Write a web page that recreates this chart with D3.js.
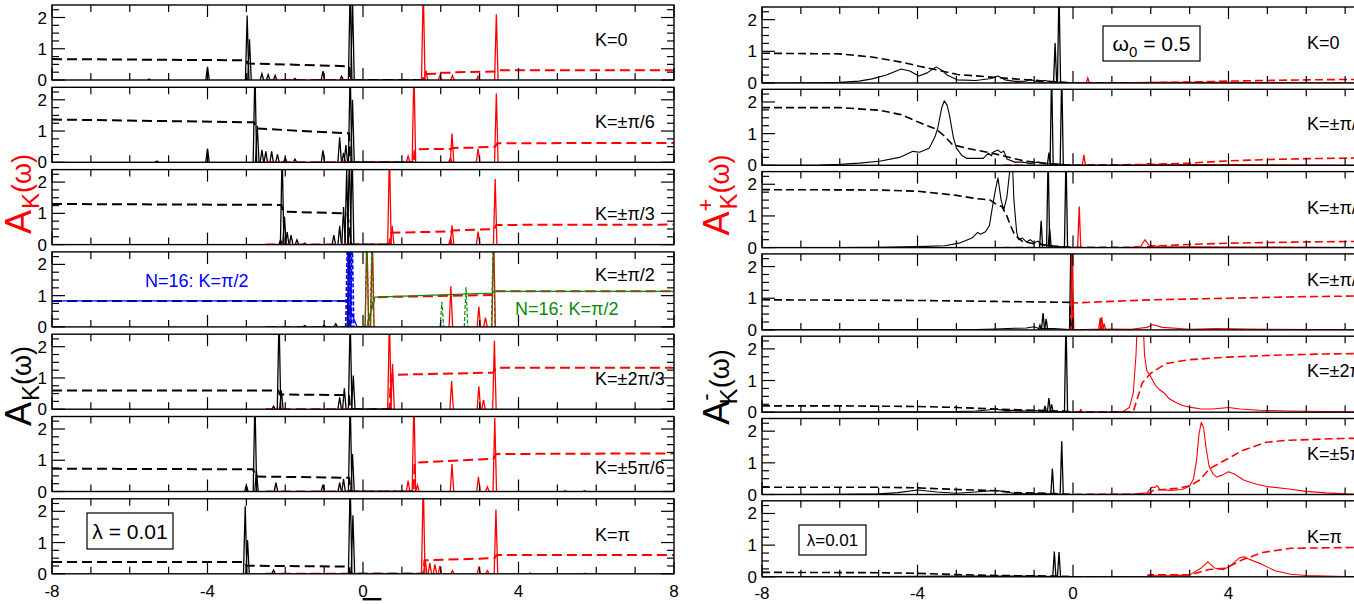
<!DOCTYPE html>
<html>
<head>
<meta charset="utf-8">
<script src="https://cdn.jsdelivr.net/npm/d3@7"></script>
<style>
body { margin: 0; background: #fff; }
text { font-family: "Liberation Sans", Arial, sans-serif; }
</style>
</head>
<body>
<svg id="chart" width="1354" height="604"></svg>
<script>
// ---- data ----
const kLabels = ["K=0", "K=±π/6", "K=±π/3", "K=±π/2", "K=±2π/3", "K=±5π/6", "K=π"];
const omegaTicks = [-8, -4, 0, 4, 8];
const weightTicks = [0, 1, 2];

// left figure (lambda = 0.01): sharp peaks as [omega, height]
const leftHolePeaks = [
  [[-5.5,0.03],[-4.0,0.42],[-2.98,2.06],[-2.92,1.3],[-2.6,0.2],[-2.44,0.17],[-2.26,0.15],[-1.75,0.05],[-1.03,0.28],[-0.55,0.12],[-0.33,3.0],[-0.27,2.6]],
  [[-5.3,0.04],[-4.0,0.44],[-2.78,3.0],[-2.72,1.17],[-2.6,0.4],[-2.5,0.35],[-2.35,0.35],[-2.2,0.25],[-2.0,0.15],[-1.75,0.1],[-1.03,0.38],[-0.6,0.8],[-0.5,0.3],[-0.44,0.55],[-0.33,3.0],[-0.27,2.0]],
  [[-2.12,0.15],[-2.08,3.0],[-2.02,0.9],[-1.95,0.4],[-1.85,0.3],[-1.7,0.15],[-1.5,0.05],[-0.75,0.3],[-0.6,0.6],[-0.5,1.2],[-0.42,2.4],[-0.35,3.0],[-0.28,3.0]],
  [[-1.5,0.04],[-1.0,0.05],[-0.7,0.1],[-0.36,3.0]],
  [[-2.3,0.1],[-2.16,3.0],[-2.1,0.6],[-0.6,0.38],[-0.48,0.67],[-0.33,3.0],[-0.25,1.08]],
  [[-3.0,0.2],[-2.78,3.0],[-2.74,0.67],[-2.24,0.28],[-1.03,0.22],[-0.6,0.28],[-0.5,0.4],[-0.33,3.0],[-0.27,1.2]],
  [[-3.03,2.16],[-2.97,1.08],[-2.3,0.12],[-0.33,3.0],[-0.26,1.87]]
];
const leftHoleWeight = [
  [[-8,0.67],[-3.0,0.63],[-2.97,0.53],[-0.36,0.44],[-0.33,0],[1.5,0]],
  [[-8,1.37],[-2.8,1.28],[-2.76,1.08],[-0.36,0.93],[-0.33,0],[1.3,0]],
  [[-8,1.3],[-2.1,1.27],[-2.05,1.05],[-0.4,1.0],[-0.3,0],[0.7,0]],
  [[-8,0.83],[-0.38,0.83],[-0.35,0],[0.2,0]],
  [[-8,0.6],[-2.18,0.6],[-2.14,0.47],[-0.36,0.45],[-0.33,0],[0.7,0]],
  [[-8,0.73],[-2.82,0.71],[-2.78,0.48],[-0.36,0.44],[-0.33,0],[1.3,0]],
  [[-8,0.38],[-3.05,0.38],[-3.0,0.26],[-0.36,0.23],[-0.33,0],[1.55,0]]
];
const leftElecPeaks = [
  [[1.55,3.0],[1.62,0.3],[1.98,0.15],[2.3,0.15],[2.96,0.12],[3.43,2.1]],
  [[1.16,0.2],[1.31,3.0],[2.25,0.15],[2.29,0.92],[2.96,0.44],[3.43,2.2]],
  [[0.68,3.0],[0.75,0.6],[2.25,0.2],[2.29,0.62],[2.96,0.42],[3.4,2.1]],
  [[0.1,3.0],[0.24,3.0],[2.26,1.3],[2.98,0.64],[3.15,0.3],[3.36,3.0]],
  [[0.68,3.0],[0.76,1.45],[2.28,0.9],[2.98,0.73],[3.1,0.3],[3.38,2.19]],
  [[1.16,0.35],[1.31,3.0],[1.4,0.2],[2.29,0.88],[2.97,0.47],[3.2,0.15],[3.39,2.35],[5.2,0.03],[5.7,0.03]],
  [[1.55,3.0],[1.6,0.44],[1.72,0.34],[1.85,0.3],[1.98,0.25],[2.3,0.1],[2.98,0.2],[3.2,0.1],[3.42,2.06],[4.3,0.03],[5.7,0.02]]
];
const leftElecWeight = [
  [[-2.5,0],[1.54,0],[1.57,0.19],[1.98,0.2],[2.0,0.23],[2.3,0.23],[2.32,0.25],[3.4,0.27],[3.45,0.31],[8,0.31]],
  [[-2.5,0],[1.3,0],[1.33,0.42],[2.27,0.43],[2.3,0.46],[2.95,0.47],[2.98,0.48],[3.4,0.5],[3.45,0.61],[8,0.62]],
  [[-2.5,0],[0.68,0],[0.72,0.38],[2.27,0.42],[2.3,0.45],[3.38,0.5],[3.43,0.63],[8,0.64]],
  [[-2.5,0],[0.1,0],[0.3,0.95],[3.33,1.02],[3.38,1.14],[8,1.14]],
  [[-2.5,0],[0.68,0],[0.72,1.1],[3.35,1.17],[3.42,1.33],[8,1.33]],
  [[-2.5,0],[1.3,0],[1.33,0.92],[3.35,1.05],[3.42,1.2],[8,1.22]],
  [[-2.5,0],[1.55,0],[1.58,0.43],[3.38,0.5],[3.44,0.6],[8,0.6]]
];
// N=16 comparison, K=pi/2 panel
const n16HoleLine = [[-8,0.83],[-0.42,0.83],[-0.15,0]];
const n16HolePeaks = [[-0.4,3.0],[-0.33,3.0],[-0.28,3.0]];
const n16ElecLine = [[0.1,0],[0.3,0.95],[3.33,1.08],[3.38,1.14],[8,1.14]];
const n16ElecPeaks = [[0.1,3.0],[0.23,3.0],[2.03,0.8],[2.65,1.27],[3.35,3.0]];

// right figure (omega0 = 0.5): broad curves, a few sharp peaks, integrated weights
const rightHoleCurve = [
  [[-8,0],[-6.5,0.005],[-6,0.02],[-5.5,0.06],[-5.17,0.13],[-4.8,0.25],[-4.42,0.44],[-4.2,0.38],[-3.96,0.22],[-3.75,0.32],[-3.52,0.51],[-3.35,0.38],[-3.24,0.25],[-2.98,0.1],[-2.5,0.08],[-2.1,0.14],[-1.93,0.22],[-1.75,0.1],[-1.5,0.05],[-1.2,0.06],[-1.1,0.12],[-1.0,0.06],[-0.85,0.05],[-0.7,0.08],[-0.6,0.03],[-0.3,0.02],[0,0]],
  [[-8,0],[-6.5,0.01],[-6,0.03],[-5.5,0.07],[-4.98,0.13],[-4.46,0.25],[-4.12,0.44],[-3.95,0.41],[-3.7,0.54],[-3.55,0.9],[-3.48,1.17],[-3.38,1.8],[-3.31,2.04],[-3.24,1.9],[-3.18,1.6],[-3.08,0.9],[-3.0,0.54],[-2.85,0.3],[-2.74,0.22],[-2.31,0.22],[-2.18,0.38],[-2.1,0.3],[-2.05,0.42],[-1.93,0.48],[-1.85,0.4],[-1.78,0.45],[-1.7,0.2],[-1.5,0.1],[-1.3,0.1],[-1.1,0.06],[-0.9,0.1],[-0.7,0.05],[-0.3,0.03],[0,0]],
  [[-8,0],[-6,0.005],[-5,0.01],[-4,0.03],[-3.3,0.06],[-2.9,0.15],[-2.6,0.3],[-2.45,0.48],[-2.38,0.42],[-2.25,0.5],[-2.15,0.7],[-2.07,1.3],[-2.0,1.8],[-1.93,2.2],[-1.85,1.5],[-1.78,1.2],[-1.7,1.6],[-1.62,2.5],[-1.57,3.0],[-1.52,1.5],[-1.45,0.5],[-1.4,0.25],[-1.3,0.3],[-1.2,0.18],[-1.1,0.25],[-1.0,0.15],[-0.9,0.2],[-0.8,0.1],[-0.5,0.05],[-0.2,0.02],[0,0]],
  [[-8,0],[-4,0.005],[-2.5,0.01],[-2,0.03],[-1.5,0.05],[-1.2,0.06],[-1.0,0.1],[-0.9,0.05],[-0.5,0.04],[-0.2,0.02],[0,0]],
  [[-8,0],[-5,0.01],[-3,0.02],[-2.5,0.04],[-2.2,0.07],[-2.0,0.1],[-1.9,0.08],[-1.7,0.05],[-1.5,0.06],[-1.2,0.04],[-1.0,0.06],[-0.8,0.03],[-0.5,0.03],[0,0]],
  [[-8,0],[-6,0.005],[-5,0.02],[-4.5,0.06],[-4,0.14],[-3.5,0.08],[-3,0.04],[-2.5,0.08],[-2.0,0.13],[-1.8,0.1],[-1.5,0.03],[-1.2,0.02],[-0.8,0.03],[-0.4,0.01],[0,0]],
  [[-8,0],[-5,0.01],[-3,0.02],[-2,0.02],[-1.5,0.02],[-1,0.02],[-0.5,0.01],[0,0]]
];
const rightHolePeaks = [
  [[-0.46,1.26],[-0.36,3.0]],
  [[-0.62,0.4],[-0.55,3.0],[-0.29,3.0]],
  [[-0.82,0.85],[-0.64,3.0],[-0.6,0.6],[-0.18,3.0]],
  [[-0.85,0.15],[-0.77,0.53],[-0.69,0.35],[-0.05,3.0]],
  [[-0.72,0.2],[-0.62,0.45],[-0.55,0.25],[-0.18,3.0]],
  [[-0.53,0.82],[-0.29,1.68]],
  [[-0.48,0.8],[-0.36,0.78]]
];
const rightHoleWeight = [
  [[-8,0.94],[-6,0.92],[-5.17,0.82],[-4.42,0.66],[-3.96,0.53],[-3.52,0.42],[-2.98,0.27],[-1.93,0.17],[-1.27,0.11],[-0.7,0.06],[-0.36,0.03],[0,0],[1.5,0]],
  [[-8,1.82],[-6,1.82],[-4.98,1.74],[-4.42,1.6],[-3.95,1.35],[-3.52,1.14],[-3.31,0.93],[-3.1,0.65],[-2.74,0.54],[-2.14,0.4],[-1.8,0.3],[-1.27,0.14],[-0.6,0.05],[-0.3,0.02],[0,0],[1.5,0]],
  [[-8,1.83],[-5,1.82],[-4,1.78],[-3,1.65],[-2.5,1.55],[-2.13,1.5],[-1.95,1.35],[-1.83,1.3],[-1.7,1.0],[-1.62,0.73],[-1.5,0.4],[-1.3,0.2],[-1.0,0.12],[-0.5,0.05],[0,0],[1.5,0]],
  [[-8,0.95],[-4,0.93],[-2,0.9],[-0.08,0.87],[-0.05,0]],
  [[-8,0.2],[-6,0.2],[-4,0.18],[-3,0.15],[-2,0.1],[-1,0.06],[-0.2,0.03],[0,0],[1.5,0]],
  [[-8,0.23],[-5,0.23],[-4,0.21],[-3,0.16],[-2,0.12],[-1.5,0.06],[-0.5,0.03],[0,0],[1.5,0]],
  [[-8,0.14],[-5,0.13],[-4,0.11],[-3,0.07],[-2,0.04],[-1,0.03],[-0.3,0.02],[0,0],[1.5,0]]
];
const rightElecCurve = [
  [[0,0],[1,0.01],[2,0.02],[4,0.02],[6,0.01],[8,0]],
  [[0,0],[1.5,0.01],[1.85,0.02],[1.93,0.06],[2.05,0.02],[4,0.02],[8,0]],
  [[0,0],[1.5,0.01],[1.75,0.05],[1.85,0.25],[1.95,0.08],[2.2,0.03],[4,0.02],[8,0]],
  [[0,0],[0.5,0.02],[1.0,0.03],[1.5,0.02],[1.9,0.08],[2.06,0.16],[2.3,0.08],[3,0.02],[3.7,0.04],[4.5,0.03],[5,0.02],[8,0]],
  [[0,0],[1.0,0.01],[1.3,0.03],[1.45,0.15],[1.55,0.6],[1.62,1.8],[1.66,3.0],[1.8,3.0],[1.84,1.8],[1.9,1.3],[1.98,1.17],[2.05,1.0],[2.12,0.85],[2.24,0.7],[2.35,0.6],[2.45,0.45],[2.62,0.32],[2.8,0.22],[3.0,0.16],[3.3,0.1],[3.6,0.1],[4.0,0.15],[4.3,0.1],[4.8,0.06],[5.5,0.04],[6.5,0.02],[8,0.01]],
  [[0,0],[1,0.005],[1.5,0.01],[1.9,0.05],[2.03,0.23],[2.1,0.22],[2.16,0.28],[2.25,0.15],[2.5,0.13],[2.8,0.16],[3.0,0.26],[3.1,0.5],[3.18,1.1],[3.24,1.9],[3.3,2.28],[3.36,2.1],[3.42,1.5],[3.5,0.9],[3.6,0.65],[3.7,0.55],[3.85,0.62],[4.0,0.72],[4.15,0.65],[4.4,0.45],[4.7,0.33],[5.0,0.25],[5.5,0.18],[6.0,0.1],[6.5,0.05],[7,0.02],[8,0.01]],
  [[0,0],[1.9,0.01],[2.0,0.05],[2.1,0.04],[2.5,0.03],[3.0,0.06],[3.3,0.28],[3.47,0.47],[3.64,0.28],[3.86,0.22],[4.03,0.33],[4.28,0.6],[4.41,0.63],[4.5,0.57],[4.85,0.4],[5.2,0.19],[5.6,0.08],[6.0,0.04],[7,0.01],[8,0]]
];
const rightElecPeaks = [
  [[0.38,0.16]],
  [[0.28,0.33]],
  [[0.16,1.3]],
  [[-0.02,3.0],[0.7,0.37],[0.74,0.4],[0.8,0.2]],
  [[0.2,0.08]],
  [],
  []
];
const rightElecWeight = [
  [[-1.8,0],[0.4,0],[2,0.01],[3,0.03],[4,0.06],[5,0.08],[6,0.1],[8,0.12]],
  [[-1.8,0],[0.3,0],[2,0.03],[3,0.07],[4,0.14],[5,0.18],[6,0.21],[8,0.24]],
  [[-1.8,0],[1.7,0],[2.1,0.05],[3,0.1],[4,0.14],[6,0.18],[8,0.2]],
  [[-0.03,0],[0,0.85],[1,0.9],[2,0.95],[4,1.0],[6,1.05],[8,1.08]],
  [[-1.8,0],[1.55,0],[1.62,0.3],[1.7,0.6],[1.78,0.92],[2.0,1.23],[2.4,1.54],[3,1.66],[4,1.74],[5.2,1.8],[6.5,1.84],[8,1.86]],
  [[-1.8,0],[1.9,0],[2.07,0.13],[2.7,0.2],[3.02,0.28],[3.25,0.45],[3.52,0.82],[3.98,1.13],[4.36,1.39],[4.97,1.65],[5.5,1.71],[6.9,1.77],[8,1.78]],
  [[-1.8,0],[1.9,0],[1.94,0.06],[3.0,0.06],[3.5,0.23],[3.93,0.27],[4.36,0.54],[4.88,0.77],[5.6,0.9],[6.9,0.92],[8,0.93]]
];

// ---- layout ----
const svg = d3.select("#chart");
const RED = "#ff0000", BLUE = "#0000ff", GREEN = "#0a8a0a";
const plotW = 622, pitch = 82.3;
const figs = [
  {x0: 52, top0: 5, h: 75, dash: "10,5", dw: 2, halfW: 0.045, labelX: 595,
   labelDy: [35, 35, 44, 23, 45, 51, 36], tickY: 597,
   holePeaks: leftHolePeaks, holeWeight: leftHoleWeight, elecPeaks: leftElecPeaks, elecWeight: leftElecWeight},
  {x0: 762, top0: 7, h: 76, dash: "8,4", dw: 1.6, halfW: 0.04, labelX: 1307,
   labelDy: [36, 35, 36, 26, 35, 35, 36], tickY: 599,
   holeCurve: rightHoleCurve, holePeaks: rightHolePeaks, holeWeight: rightHoleWeight,
   elecCurve: rightElecCurve, elecPeaks: rightElecPeaks, elecWeight: rightElecWeight}
];

const x = fig => d3.scaleLinear().domain([-8, 8]).range([fig.x0, fig.x0 + plotW]);
const line = (sx, sy) => d3.line().x(d => sx(d[0])).y(d => sy(d[1]));

figs.forEach((fig, fi) => {
  const sx = x(fig);
  kLabels.forEach((lab, i) => {
    const top = fig.top0 + pitch * i;
    const sy = d3.scaleLinear().domain([0, 2.4]).range([top + fig.h, top]);
    const g = svg.append("g");
    const clipId = `clip${fi}_${i}`;
    svg.append("clipPath").attr("id", clipId).append("rect")
      .attr("x", fig.x0).attr("y", top).attr("width", plotW).attr("height", fig.h);
    const pg = g.append("g").attr("clip-path", `url(#${clipId})`);
    const ln = line(sx, sy);
    const spikes = (peaks, color, w, dash) => {
      pg.selectAll(null).data(peaks).enter().append("path")
        .attr("d", p => ln([[p[0] - fig.halfW, 0], [p[0], p[1]], [p[0] + fig.halfW, 0]]))
        .attr("fill", "none").attr("stroke", color).attr("stroke-width", w)
        .attr("stroke-dasharray", dash || null);
    };
    const curve = (pts, color, w, dash) => {
      pg.append("path").attr("d", ln(pts)).attr("fill", "none")
        .attr("stroke", color).attr("stroke-width", w)
        .attr("stroke-dasharray", dash || null).attr("stroke-linejoin", "round");
    };

    if (fig.holeCurve) curve(fig.holeCurve[i], "#000", 1.1);
    spikes(fig.holePeaks[i], "#000", 1.3);
    if (fig.elecCurve) curve(fig.elecCurve[i], RED, 1.1);
    spikes(fig.elecPeaks[i], RED, 1.3);
    curve(fig.elecWeight[i], RED, fig.dw, fig.dash);
    curve(fig.holeWeight[i], "#000", fig.dw, fig.dash);

    if (fi === 0 && i === 3) {
      spikes(n16HolePeaks, BLUE, 1.6, "4,2");
      curve(n16HoleLine, BLUE, 1.2);
      spikes(n16ElecPeaks, GREEN, 1.2, "4,2");
      curve(n16ElecLine, GREEN, 1.2);
    }

    // frame
    g.append("rect").attr("x", fig.x0).attr("y", top).attr("width", plotW).attr("height", fig.h)
      .attr("fill", "none").attr("stroke", "#000").attr("stroke-width", 1.4);

    // inward ticks
    const yt = d3.range(0, 2.3, 0.25);
    [fig.x0, fig.x0 + plotW].forEach((ex, side) => {
      g.selectAll(null).data(yt).enter().append("line")
        .attr("x1", ex).attr("x2", d => ex + (side ? -1 : 1) * (d % 1 === 0 ? 13 : 7))
        .attr("y1", d => sy(d)).attr("y2", d => sy(d))
        .attr("stroke", "#000").attr("stroke-width", 1.2);
    });
    const xt = d3.range(-8, 8.5, 1);
    [top, top + fig.h].forEach((ey, side) => {
      g.selectAll(null).data(xt).enter().append("line")
        .attr("x1", d => sx(d)).attr("x2", d => sx(d))
        .attr("y1", ey).attr("y2", d => ey + (side ? -1 : 1) * (d % 4 === 0 ? 12 : 7))
        .attr("stroke", "#000").attr("stroke-width", 1.2);
    });

    // y tick labels
    g.selectAll(null).data(weightTicks).enter().append("text")
      .attr("x", fig.x0 - 5).attr("y", d => sy(d) + 6)
      .attr("text-anchor", "end").attr("font-size", 17).text(d => d);

    // K label
    g.append("text").attr("x", fig.labelX).attr("y", top + fig.labelDy[i] + 6)
      .attr("font-size", 18).text(lab);
  });

  // omega tick labels
  svg.selectAll(null).data(omegaTicks).enter().append("text")
    .attr("x", d => sx(d)).attr("y", fig.tickY)
    .attr("text-anchor", "middle").attr("font-size", 17).text(d => d);
});

// side labels
function sideLabel(cx, cy, color, sup) {
  const t = svg.append("text").attr("transform", `translate(${cx},${cy}) rotate(-90)`)
    .attr("text-anchor", "middle").attr("fill", color).attr("font-size", 36);
  t.append("tspan").text("A");
  if (sup) t.append("tspan").attr("font-size", 22).attr("dy", -16).text(sup);
  t.append("tspan").attr("font-size", 24).attr("dy", sup ? 24 : 8).attr("dx", sup ? -11 : 1).text("K");
  t.append("tspan").attr("font-size", 27).attr("dy", -8).text("(ω)");
}
sideLabel(31, 194, RED, null);
sideLabel(31, 386, "#000", null);
sideLabel(729, 195, RED, "+");
sideLabel(729, 387, "#000", "-");

// annotation boxes
function boxText(x0, y0, w, h, fs, parts) {
  svg.append("rect").attr("x", x0).attr("y", y0).attr("width", w).attr("height", h)
    .attr("fill", "#fff").attr("stroke", "#000").attr("stroke-width", 1.2);
  const t = svg.append("text").attr("x", x0 + w / 2).attr("y", y0 + h / 2 + fs * 0.36)
    .attr("text-anchor", "middle").attr("font-size", fs);
  parts.forEach(p => t.append("tspan").attr("font-size", p.fs || fs).attr("dy", p.dy || 0).text(p.t));
}
boxText(87, 513, 86, 36, 21, [{t: "λ = 0.01"}]);
boxText(1103, 26, 97, 35, 21, [{t: "ω"}, {t: "0", fs: 15, dy: 6}, {t: " = 0.5", dy: -6}]);
boxText(799, 525, 67, 30, 17, [{t: "λ=0.01"}]);

// N=16 annotations
svg.append("text").attr("x", 145).attr("y", 287).attr("font-size", 18).attr("fill", BLUE).text("N=16: K=π/2");
svg.append("text").attr("x", 515).attr("y", 315).attr("font-size", 18).attr("fill", GREEN).text("N=16: K=π/2");

// x axis label (mostly below the visible area)
svg.append("text").attr("x", 372).attr("y", 622).attr("text-anchor", "middle")
  .attr("font-size", 24).style("text-decoration", "overline").text("ω");
</script>
</body>
</html>
